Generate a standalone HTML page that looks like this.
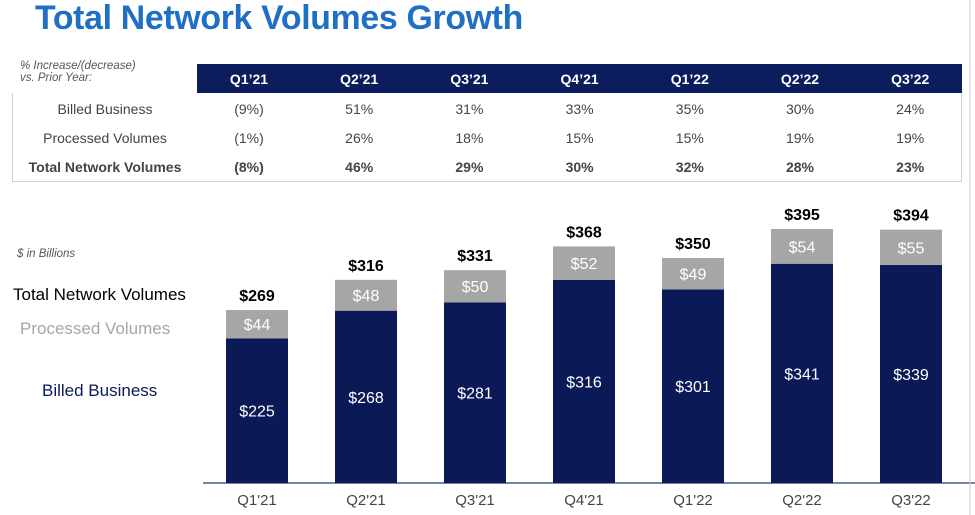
<!DOCTYPE html>
<html><head><meta charset="utf-8"><style>
body{margin:0;width:975px;height:515px;background:#fff;font-family:"Liberation Sans",Arial,sans-serif;position:relative;overflow:hidden}
.abs{position:absolute}
#title{left:35px;top:-1px;font-size:33.8px;font-weight:bold;color:#1f6fc5;letter-spacing:-0.3px}
#sub{left:20px;top:60px;font-size:11.5px;font-style:italic;color:#555;line-height:12px}
#hdr{left:197px;top:64px;width:765px;height:29px;background:#0b1d5c}
#tbl{left:12px;top:93px;width:948px;height:88px;border:1px solid #d0d0d0;border-top:none}
.c{position:absolute;transform:translateX(-50%);white-space:nowrap}
</style></head><body>
<div id="title" class="abs">Total Network Volumes Growth</div>
<div id="sub" class="abs">% Increase/(decrease)<br>vs. Prior Year:</div>
<div id="hdr" class="abs"></div>
<div id="tbl" class="abs"></div>
<div id="cells"></div>
<svg id="chart" class="abs" style="left:0;top:0" width="975" height="515"></svg>
<script>
const quarters=["Q1'21","Q2'21","Q3'21","Q4'21","Q1'22","Q2'22","Q3'22"];
const billed=[225,268,281,316,301,341,339];
const processed=[44,48,50,52,49,54,55];
const totals=[269,316,331,368,350,395,394];
const rowNames=["Billed Business","Processed Volumes","Total Network Volumes"];
const billedGrowth=["(9%)","51%","31%","33%","35%","30%","24%"];
const processedGrowth=["(1%)","26%","18%","15%","15%","19%","19%"];
const totalGrowth=["(8%)","46%","29%","30%","32%","28%","23%"];

const colX=i=>249+i*110.2;
const cells=document.getElementById('cells');
function cell(txt,x,y,style,name){
  const d=document.createElement('div');
  d.className='c';d.textContent=txt;
  d.style.left=x+'px';d.style.top=y+'px';d.style.cssText+=style;
  
  
  cells.appendChild(d);
}
quarters.forEach((q,i)=>cell(q.replace("'","’"),colX(i),71,'font-size:14px;font-weight:bold;color:#fff','header-'+i));
const rows=[billedGrowth,processedGrowth,totalGrowth];
rows.forEach((r,j)=>{
  const y=101+j*29, b=j==2?'font-weight:bold;':'';
  cell(rowNames[j],105,y,'font-size:14px;color:#444;'+b,'row-label-'+j);
  r.forEach((v,i)=>cell(v,colX(i),y,'font-size:14px;color:#444;'+b,'growth-cell'));
});

const svg=document.getElementById('chart');
const NS='http://www.w3.org/2000/svg';
const base=483, k=0.643;
const xC=i=>257+i*109, bw=62;
const yS=v=>base-v*k;
function el(tag,attrs,txt,name){
  const e=document.createElementNS(NS,tag);
  for(const a in attrs)e.setAttribute(a,attrs[a]);
  if(txt!==undefined)e.textContent=txt;
  
  
  svg.appendChild(e);return e;
}
el('line',{x1:203,x2:975,y1:base,y2:base,stroke:'#4a5a8a','stroke-width':1.5},undefined,'x-axis');
quarters.forEach((q,i)=>{
  const x=xC(i);
  const yb=yS(billed[i]), yt=yS(billed[i]+processed[i]);
  el('rect',{x:x-bw/2,y:yb,width:bw,height:base-yb,fill:'#0b1a57'},undefined,'bar-billed');
  el('rect',{x:x-bw/2,y:yt,width:bw,height:yb-yt,fill:'#a6a6a6'},undefined,'bar-processed');
  el('text',{x:x,y:(yb+base)/2+6,'text-anchor':'middle','font-size':16,fill:'#fff'},'$'+billed[i],'billed-label');
  el('text',{x:x,y:(yt+yb)/2+6,'text-anchor':'middle','font-size':16,fill:'#fff'},'$'+processed[i],'processed-label');
  el('text',{x:x,y:yt-9,'text-anchor':'middle','font-size':16,'font-weight':'bold',fill:'#000'},'$'+totals[i],'total-label');
  el('text',{x:x,y:505,'text-anchor':'middle','font-size':15,fill:'#444'},q,'x-tick-label');
});
el('text',{x:17,y:257,'font-size':11.5,'font-style':'italic',fill:'#555'},'$ in Billions','units-note');
el('text',{x:13,y:300,'font-size':17,fill:'#000'},'Total Network Volumes','legend-total');
el('text',{x:20,y:334,'font-size':17,fill:'#a6a6a6'},'Processed Volumes','legend-processed');
el('text',{x:42,y:396,'font-size':17,fill:'#0b1a57'},'Billed Business','legend-billed');
el('line',{x1:970,x2:970,y1:0,y2:515,stroke:'#ccc','stroke-width':1},undefined,'right-border');
</script>
</body></html>
